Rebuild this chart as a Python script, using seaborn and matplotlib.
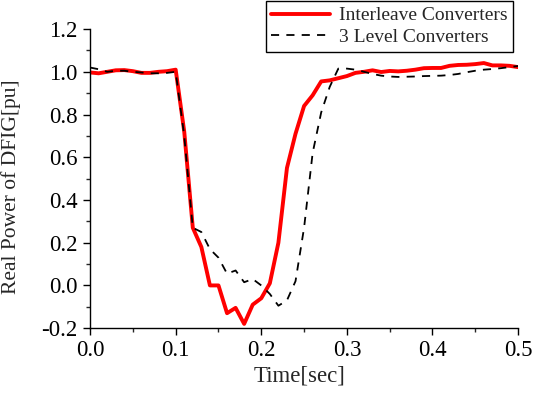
"""DFIG real power during fault — interleave vs 3-level converters."""

import matplotlib

matplotlib.use("Agg")

import matplotlib.pyplot as plt
import numpy as np
import pandas as pd
import seaborn as sns
from matplotlib.ticker import MultipleLocator

time_s = np.round(np.arange(0, 51) * 0.01, 2)

interleave = [
    0.997, 0.993, 1.000, 1.007, 1.008, 1.003, 0.995, 0.995, 1.000, 1.003,
    1.010, 0.720, 0.270, 0.180, 0.000, 0.000, -0.130, -0.105, -0.180, -0.090,
    -0.060, 0.010, 0.200, 0.550, 0.710, 0.840, 0.890, 0.955, 0.960, 0.970,
    0.980, 0.995, 1.000, 1.007, 0.999, 1.004, 1.002, 1.005, 1.010, 1.017,
    1.018, 1.018, 1.028, 1.032, 1.033, 1.036, 1.041, 1.030, 1.030, 1.028,
    1.022,
]

three_level = [
    1.020, 1.012, 1.000, 1.005, 1.005, 1.000, 0.997, 0.993, 0.993, 0.995,
    1.000, 0.700, 0.270, 0.250, 0.170, 0.130, 0.055, 0.070, 0.015, 0.030,
    0.000, -0.040, -0.095, -0.070, 0.020, 0.270, 0.620, 0.810, 0.930, 1.015,
    1.015, 1.010, 1.000, 0.990, 0.982, 0.978, 0.976, 0.977, 0.978, 0.980,
    0.981, 0.982, 0.985, 0.990, 0.998, 1.005, 1.010, 1.013, 1.017, 1.022,
    1.027,
]

df = pd.DataFrame({
    "time": time_s,
    "Interleave Converters": interleave,
    "3 Level Converters": three_level,
})

sns.set_style("ticks")
plt.rcParams["font.family"] = ["Liberation Serif", "DejaVu Serif"]
plt.rcParams["xtick.direction"] = "out"
plt.rcParams["ytick.direction"] = "out"

fig = plt.figure(figsize=(5.33, 3.93), dpi=100)
ax = fig.add_axes([0.169, 0.165, 0.803, 0.761])

sns.lineplot(data=df, x="time", y="Interleave Converters", ax=ax,
             color="#ff0000", linewidth=2.8, label="Interleave Converters")
sns.lineplot(data=df, x="time", y="3 Level Converters", ax=ax,
             color="black", linewidth=1.3, label="3 Level Converters")
ax.lines[1].set_dashes([4.5, 4])

ax.set_xlim(0, 0.5)
ax.set_ylim(-0.2, 1.2)
ax.xaxis.set_major_locator(MultipleLocator(0.1))
ax.xaxis.set_minor_locator(MultipleLocator(0.05))
ax.yaxis.set_major_locator(MultipleLocator(0.2))
ax.yaxis.set_minor_locator(MultipleLocator(0.1))
ax.xaxis.set_major_formatter(plt.FuncFormatter(lambda v, p: f"{v:.1f}"))
ax.yaxis.set_major_formatter(plt.FuncFormatter(lambda v, p: f"{v:.1f}"))
ax.tick_params(which="major", length=5, width=1, labelsize=16.5,
               colors="black")
ax.tick_params(axis="y", which="major", pad=4)
ax.tick_params(which="minor", length=3, width=1)
for side in ("left", "bottom"):
    ax.spines[side].set_linewidth(1)
    ax.spines[side].set_color("black")
sns.despine(ax=ax)

ax.set_xlabel("Time[sec]", fontsize=16.5)
ax.set_ylabel("Real Power of DFIG[pu]", fontsize=15.5)
ax.xaxis.set_label_coords(0.49, -0.125)
ax.yaxis.set_label_coords(-0.162, 0.473)

ax.get_legend().remove()
handles, labels = ax.get_legend_handles_labels()
leg = fig.legend(handles, labels, loc="upper right",
                 bbox_to_anchor=(0.9625, 0.9975), fontsize=14,
                 frameon=True, fancybox=False, framealpha=1,
                 edgecolor="black", handlelength=3.0, handletextpad=0.45,
                 labelspacing=0.2, borderpad=0.3, borderaxespad=0)
leg.get_frame().set_linewidth(1)

fig.savefig("out.png", dpi=100)
